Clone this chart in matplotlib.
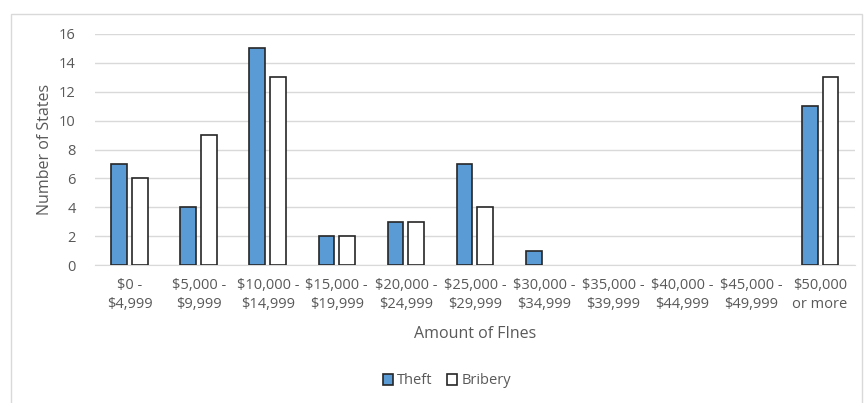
import numpy as np
from matplotlib import pyplot as plt
from matplotlib.patches import Rectangle

plt.rcParams['font.family'] = ['Open Sans', 'DejaVu Sans']

categories = ['$0 -\n$4,999', '$5,000 -\n$9,999', '$10,000 -\n$14,999', '$15,000 -\n$19,999',
              '$20,000 -\n$24,999', '$25,000 -\n$29,999', '$30,000 -\n$34,999', '$35,000 -\n$39,999',
              '$40,000 -\n$44,999', '$45,000 -\n$49,999', '$50,000\nor more']
theft = [7, 4, 15, 2, 3, 7, 1, 0, 0, 0, 11]
bribery = [6, 9, 13, 2, 3, 4, 0, 0, 0, 0, 13]

grey = '#595959'
fig = plt.figure(figsize=(8.65, 4.03), dpi=100)
ax = fig.add_axes([0.110, 0.342, 0.878, 0.574])

# outer chart frame
fig.patches.append(Rectangle((11 / 865, -0.01), 851 / 865, 1 - 14 / 403 + 0.01,
                             transform=fig.transFigure, fill=False, ec='#d9d9d9', lw=1))

x = np.arange(len(categories))
w = 0.23
# no outline for empty bars
ec_t = ['#262626' if v > 0 else 'none' for v in theft]
ec_b = ['#262626' if v > 0 else 'none' for v in bribery]
ax.bar(x - 0.15, theft, w, color='#5b9bd5', edgecolor=ec_t, lw=1.2, label='Theft', zorder=3)
ax.bar(x + 0.15, bribery, w, color='white', edgecolor=ec_b, lw=1.2, label='Bribery', zorder=3)

ax.set_xlim(-0.5, len(categories) - 0.5)
ax.set_ylim(0, 16)
ax.set_yticks(range(0, 17, 2))
ax.set_xticks(x)
ax.set_xticklabels(categories, linespacing=1.4)
ax.grid(axis='y', color='#d9d9d9', lw=1, zorder=0)
ax.tick_params(length=0, colors=grey, labelsize=10.5)
ax.tick_params(axis='x', pad=9)
ax.tick_params(axis='y', pad=14)
for s in ['top', 'right', 'left']:
    ax.spines[s].set_visible(False)
ax.spines['bottom'].set_color('#d9d9d9')

ax.set_ylabel('Number of States', color=grey, fontsize=11.5, labelpad=4)
ax.set_xlabel('Amount of FInes', color=grey, fontsize=11.5, labelpad=10)

fig.legend(handles=[c.patches[0] for c in ax.containers],
           labels=['Theft', 'Bribery'],
           loc='center', bbox_to_anchor=(447 / 865, 1 - 381 / 403), ncol=2, frameon=False,
           fontsize=10.5, labelcolor=grey, handlelength=0.7, handleheight=0.7,
           handletextpad=0.3, columnspacing=1.0)

plt.savefig('out.png')
